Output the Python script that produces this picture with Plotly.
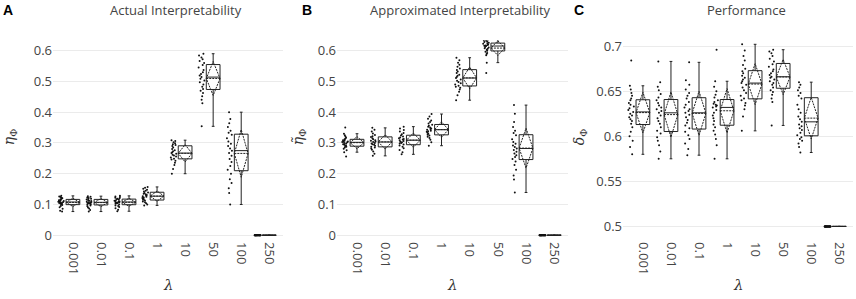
import plotly.graph_objects as go

# ---------------- data ----------------
lambdas = ['0.001', '0.01', '0.1', '1', '10', '50', '100', '250']

# Panel A: actual interpretability  (eta_Phi)
A_0_001 = [0.077, 0.080, 0.086, 0.091, 0.095, 0.098, 0.100, 0.102, 0.103, 0.105, 0.106, 0.107, 0.108,
           0.109, 0.110, 0.111, 0.113, 0.114, 0.116, 0.118, 0.120, 0.122, 0.124, 0.126, 0.128]
A_0_01 = [0.077, 0.082, 0.087, 0.090, 0.094, 0.097, 0.099, 0.101, 0.103, 0.104, 0.105, 0.106, 0.107,
          0.108, 0.109, 0.111, 0.112, 0.114, 0.116, 0.118, 0.119, 0.121, 0.123, 0.125, 0.127]
A_0_1 = [0.078, 0.083, 0.088, 0.092, 0.095, 0.097, 0.100, 0.102, 0.104, 0.105, 0.106, 0.107, 0.108,
         0.109, 0.110, 0.112, 0.113, 0.115, 0.117, 0.119, 0.120, 0.122, 0.124, 0.126, 0.128]
A_1 = [0.097, 0.100, 0.104, 0.107, 0.110, 0.113, 0.115, 0.117, 0.119, 0.121, 0.123, 0.125, 0.127,
       0.129, 0.131, 0.133, 0.135, 0.137, 0.139, 0.142, 0.145, 0.148, 0.151, 0.154, 0.157]
A_10 = [0.200, 0.215, 0.228, 0.236, 0.242, 0.246, 0.249, 0.253, 0.256, 0.259, 0.262, 0.265, 0.267,
        0.270, 0.273, 0.276, 0.280, 0.285, 0.290, 0.293, 0.296, 0.299, 0.302, 0.306, 0.309]
A_50 = [0.354, 0.429, 0.440, 0.452, 0.462, 0.470, 0.475, 0.483, 0.490, 0.497, 0.503, 0.509, 0.514,
        0.519, 0.524, 0.530, 0.537, 0.545, 0.553, 0.560, 0.566, 0.572, 0.578, 0.584, 0.590]
A_100 = [0.100, 0.137, 0.153, 0.170, 0.182, 0.200, 0.213, 0.225, 0.238, 0.248, 0.258, 0.267, 0.275,
         0.282, 0.290, 0.297, 0.305, 0.315, 0.327, 0.333, 0.340, 0.352, 0.364, 0.378, 0.400]
A_250 = [0.0, 0.0, 0.0, 0.0, 0.0, 0.0, 0.0, 0.0, 0.0, 0.0, 0.0, 0.0, 0.0,
         0.0, 0.0, 0.0, 0.0, 0.0, 0.0, 0.0, 0.0, 0.0, 0.0, 0.0, 0.0]

# Panel B: approximated interpretability  (eta-tilde_Phi)
B_0_001 = [0.256, 0.270, 0.276, 0.281, 0.285, 0.288, 0.290, 0.292, 0.294, 0.296, 0.298, 0.300, 0.302,
           0.303, 0.304, 0.305, 0.307, 0.309, 0.311, 0.314, 0.317, 0.321, 0.325, 0.330, 0.350]
B_0_01 = [0.258, 0.265, 0.272, 0.278, 0.282, 0.285, 0.288, 0.291, 0.294, 0.296, 0.298, 0.300, 0.303,
          0.305, 0.307, 0.309, 0.312, 0.315, 0.319, 0.322, 0.326, 0.331, 0.337, 0.343, 0.349]
B_0_1 = [0.263, 0.270, 0.277, 0.283, 0.288, 0.292, 0.295, 0.298, 0.300, 0.302, 0.304, 0.306, 0.309,
         0.311, 0.313, 0.315, 0.318, 0.321, 0.324, 0.328, 0.332, 0.337, 0.342, 0.347, 0.353]
B_1 = [0.291, 0.302, 0.310, 0.316, 0.320, 0.324, 0.327, 0.330, 0.333, 0.336, 0.338, 0.340, 0.343,
       0.345, 0.347, 0.350, 0.353, 0.356, 0.359, 0.363, 0.368, 0.373, 0.379, 0.386, 0.394]
B_10 = [0.439, 0.455, 0.466, 0.474, 0.479, 0.483, 0.486, 0.490, 0.494, 0.498, 0.502, 0.506, 0.511,
        0.514, 0.518, 0.522, 0.527, 0.532, 0.537, 0.542, 0.548, 0.554, 0.561, 0.569, 0.577]
B_50 = [0.527, 0.561, 0.585, 0.589, 0.592, 0.596, 0.600, 0.603, 0.606, 0.608, 0.610, 0.612, 0.615,
        0.616, 0.617, 0.618, 0.620, 0.622, 0.624, 0.626, 0.628, 0.630, 0.632, 0.634, 0.636]
B_100 = [0.139, 0.181, 0.194, 0.213, 0.228, 0.240, 0.248, 0.254, 0.260, 0.266, 0.271, 0.277, 0.282,
         0.287, 0.292, 0.297, 0.303, 0.312, 0.325, 0.332, 0.340, 0.352, 0.368, 0.395, 0.423]
B_250 = [0.0, 0.0, 0.0, 0.0, 0.0, 0.0, 0.0, 0.0, 0.0, 0.0, 0.0, 0.0, 0.0,
         0.0, 0.0, 0.0, 0.0, 0.0, 0.0, 0.0, 0.0, 0.0, 0.0, 0.0, 0.0]

# Panel C: performance  (delta_Phi)
C_0_001 = [0.580, 0.588, 0.595, 0.600, 0.605, 0.610, 0.614, 0.617, 0.619, 0.621, 0.623, 0.625, 0.627,
           0.629, 0.631, 0.633, 0.635, 0.637, 0.640, 0.642, 0.645, 0.648, 0.652, 0.656, 0.684]
C_0_01 = [0.575, 0.583, 0.590, 0.595, 0.599, 0.603, 0.606, 0.610, 0.614, 0.617, 0.620, 0.623, 0.626,
          0.628, 0.630, 0.632, 0.634, 0.637, 0.640, 0.643, 0.647, 0.651, 0.655, 0.660, 0.683]
C_0_1 = [0.579, 0.586, 0.592, 0.597, 0.601, 0.605, 0.609, 0.612, 0.615, 0.618, 0.621, 0.624, 0.626,
         0.628, 0.630, 0.632, 0.635, 0.638, 0.642, 0.645, 0.648, 0.652, 0.657, 0.662, 0.682]
C_1 = [0.575, 0.590, 0.597, 0.602, 0.606, 0.610, 0.613, 0.617, 0.620, 0.623, 0.626, 0.629, 0.632,
       0.633, 0.634, 0.635, 0.636, 0.638, 0.640, 0.643, 0.646, 0.650, 0.655, 0.661, 0.696]
C_10 = [0.606, 0.622, 0.630, 0.634, 0.637, 0.640, 0.642, 0.645, 0.648, 0.651, 0.654, 0.657, 0.659,
        0.661, 0.663, 0.665, 0.667, 0.670, 0.672, 0.675, 0.679, 0.684, 0.689, 0.695, 0.702]
C_50 = [0.612, 0.638, 0.642, 0.646, 0.649, 0.651, 0.654, 0.657, 0.659, 0.661, 0.663, 0.665, 0.666,
        0.668, 0.670, 0.672, 0.674, 0.677, 0.680, 0.683, 0.686, 0.689, 0.692, 0.694, 0.696]
C_100 = [0.582, 0.588, 0.592, 0.595, 0.597, 0.599, 0.601, 0.604, 0.607, 0.609, 0.611, 0.613, 0.616,
         0.619, 0.622, 0.626, 0.630, 0.635, 0.642, 0.645, 0.648, 0.651, 0.654, 0.657, 0.660]
C_250 = [0.5, 0.5, 0.5, 0.5, 0.5, 0.5, 0.5, 0.5, 0.5, 0.5, 0.5, 0.5, 0.5,
         0.5, 0.5, 0.5, 0.5, 0.5, 0.5, 0.5, 0.5, 0.5, 0.5, 0.5, 0.5]

panel_titles = ['Actual Interpretability', 'Approximated Interpretability', 'Performance']
panel_letters = ['A', 'B', 'C']
y_labels = ['<i>η</i><sub>Φ</sub>', '<i>η̃</i><sub>Φ</sub>', '<i>δ</i><sub>Φ</sub>']
x_label = '<i>λ</i>'

panels = [
    [A_0_001, A_0_01, A_0_1, A_1, A_10, A_50, A_100, A_250],
    [B_0_001, B_0_01, B_0_1, B_1, B_10, B_50, B_100, B_250],
    [C_0_001, C_0_01, C_0_1, C_1, C_10, C_50, C_100, C_250],
]

# ---------------- layout geometry ----------------
W, H = 856, 299
x_doms = [(53, 283), (337, 568), (623, 853)]
letter_x = [8, 307, 579]
ylabel_x = [10, 299, 580]
y_top, y_bot = 38, 243
y_ranges = [[-0.0191, 0.6338], [-0.0191, 0.6338], [0.4837, 0.7065]]
y_ticks = [[0, 0.1, 0.2, 0.3, 0.4, 0.5, 0.6], [0, 0.1, 0.2, 0.3, 0.4, 0.5, 0.6],
           [0.5, 0.55, 0.6, 0.65, 0.7]]
y_ticktext = [['0', '0.1', '0.2', '0.3', '0.4', '0.5', '0.6'],
              ['0', '0.1', '0.2', '0.3', '0.4', '0.5', '0.6'],
              ['0.5', '0.55', '0.6', '0.65', '0.7']]

fig = go.Figure()
layout = dict(
    width=W, height=H,
    margin=dict(l=0, r=0, t=0, b=0),
    paper_bgcolor='white', plot_bgcolor='white',
    showlegend=False,
    font=dict(family='Open Sans', size=13, color='#444'),
    annotations=[],
)

for i, groups in enumerate(panels):
    xs, ys = [], []
    for lam, vals in zip(lambdas, groups):
        xs += [lam] * len(vals)
        ys += vals
    sfx = '' if i == 0 else str(i + 1)
    fig.add_trace(go.Box(
        x=xs, y=ys,
        xaxis='x' + sfx, yaxis='y' + sfx,
        boxpoints='all', jitter=0.45, pointpos=-1.7,
        boxmean='sd', whiskerwidth=0.2,
        fillcolor='white',
        line=dict(color='#222', width=1),
        marker=dict(color='#111', size=2),
        hoverinfo='skip',
    ))
    x0, x1 = x_doms[i]
    layout['xaxis' + sfx] = dict(
        domain=[x0 / W, x1 / W], anchor='y' + sfx,
        type='category', categoryorder='array', categoryarray=lambdas,
        range=[-0.71, 7.49], showgrid=False, zeroline=False, showline=False,
        ticks='', tickangle=90, tickfont=dict(size=13, color='#444'),
    )
    layout['yaxis' + sfx] = dict(
        domain=[1 - y_bot / H, 1 - y_top / H], anchor='x' + sfx,
        range=y_ranges[i], tickmode='array', tickvals=y_ticks[i], ticktext=y_ticktext[i],
        showgrid=True, gridcolor='#ebebeb', gridwidth=1, zeroline=False, showline=False,
        ticks='', tickfont=dict(size=13, color='#444'),
    )
    cx = (x0 + x1) / 2
    layout['annotations'] += [
        dict(text=panel_titles[i], x=(cx + 8) / W, y=1, xref='paper', yref='paper',
             showarrow=False, xanchor='center', yanchor='top', yshift=4,
             font=dict(family='Open Sans', size=13, color='#444')),
        dict(text='<b>' + panel_letters[i] + '</b>', x=letter_x[i] / W,
             y=1, xref='paper', yref='paper', showarrow=False,
             xanchor='center', yanchor='top', yshift=3,
             font=dict(family='Liberation Sans', size=14, color='black')),
        dict(text=y_labels[i], x=ylabel_x[i] / W, y=1 - 137 / H, xref='paper', yref='paper',
             showarrow=False, textangle=-90, xanchor='center', yanchor='middle',
             font=dict(family='DejaVu Serif', size=14, color='#333')),
        dict(text=x_label, x=cx / W, y=0, xref='paper', yref='paper',
             showarrow=False, xanchor='center', yanchor='bottom',
             font=dict(family='DejaVu Serif', size=15, color='#333')),
    ]

fig.update_layout(**layout)
# remove the browser's default 8px page margin so the figure sits at the window's origin
fig.write_html('out.html', config={'displayModeBar': False, 'staticPlot': True},
               post_script="document.body.style.margin='0';")
